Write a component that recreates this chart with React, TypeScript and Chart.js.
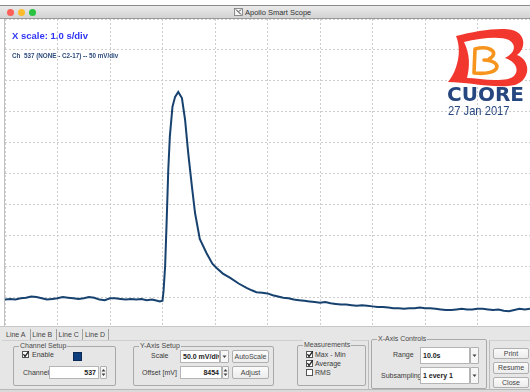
import React, { useEffect, useRef } from "react";
import { Chart, registerables } from "chart.js";
Chart.register(...registerables);

// time axis (s) and signal (mV)
const times = [
  0, 0.1, 0.2, 0.3, 0.4, 0.5, 0.6, 0.7, 0.8, 0.9,
  1.0, 1.1, 1.2, 1.3, 1.4, 1.5, 1.6, 1.7, 1.8, 1.9,
  2.0, 2.1, 2.2, 2.3, 2.4, 2.5, 2.6, 2.7, 2.8, 2.9,
  2.95, 3.0, 3.02, 3.05, 3.08, 3.11, 3.14, 3.19, 3.24, 3.3,
  3.37, 3.43, 3.49, 3.56, 3.62, 3.71, 3.84, 3.95, 4.03, 4.15,
  4.29, 4.45, 4.6, 4.7, 4.79, 4.9, 5.0, 5.1, 5.2, 5.3,
  5.4, 5.5, 5.6, 5.7, 5.8, 5.9, 6.0, 6.1, 6.2, 6.3,
  6.4, 6.5, 6.6, 6.7, 6.8, 6.9, 7.0, 7.1, 7.2, 7.3,
  7.4, 7.5, 7.6, 7.7, 7.8, 7.9, 8.0, 8.1, 8.2, 8.3,
  8.4, 8.5, 8.6, 8.7, 8.8, 8.9, 9.0, 9.1, 9.2, 9.3,
  9.4, 9.5, 9.6, 9.7, 9.8, 9.9, 10.0,
];
const signal = [
  46, 47, 46, 48, 49, 51, 50, 48, 46, 47,
  48, 50, 49, 48, 47, 48, 50, 49, 46, 45,
  48, 48, 47, 46, 47, 46, 47, 45, 46, 44,
  43, 44, 60, 100, 175, 256, 310, 358, 374, 382,
  372, 337, 283, 229, 186, 144, 121, 104, 97, 88,
  81, 72, 65, 61, 58, 57, 56, 53, 51, 49,
  48, 46, 45, 44, 43, 42, 41, 42, 40, 39,
  38, 38, 37, 36, 37, 36, 35, 34, 34, 33,
  32, 32, 31, 32, 32, 33, 32, 32, 31, 30,
  29, 29, 30, 31, 30, 30, 31, 31, 30, 29,
  30, 28, 27, 29, 31, 30, 31,
];
const xRange = [0, 10]; // 1.0 s/div
const yRange = [0, 500]; // 50 mV/div
const tabLabels = ["Line A", "Line B", "Line C", "Line D"];

const UI = "'Liberation Sans', Arial, sans-serif";

function Abs(props: { x: number; y: number; w?: number; h?: number; style?: React.CSSProperties; children?: React.ReactNode }) {
  return (
    <div
      style={{
        position: "absolute",
        left: props.x,
        top: props.y,
        width: props.w,
        height: props.h,
        boxSizing: "border-box",
        ...props.style,
      }}
    >
      {props.children}
    </div>
  );
}

function Label(props: { x: number; y: number; text: string; bold?: boolean; size?: number; color?: string }) {
  return (
    <div
      style={{
        position: "absolute",
        left: props.x,
        top: props.y,
        fontFamily: UI,
        fontSize: props.size ?? 7,
        lineHeight: "9px",
        color: props.color ?? "#3a3a3a",
        fontWeight: props.bold ? "bold" : "normal",
        whiteSpace: "nowrap",
      }}
    >
      {props.text}
    </div>
  );
}

function Group(props: { x: number; y: number; w: number; h: number; title: string }) {
  return (
    <>
      <Abs x={props.x} y={props.y} w={props.w} h={props.h} style={{ border: "1px solid #a9a9a9", borderRadius: 2 }} />
      <div
        style={{
          position: "absolute",
          left: props.x + 6,
          top: props.y - 5,
          padding: "0 1px",
          background: "#e6e6e6",
          fontFamily: UI,
          fontSize: 7,
          lineHeight: "9px",
          color: "#4a4a4a",
          whiteSpace: "nowrap",
        }}
      >
        {props.title}
      </div>
    </>
  );
}

function Input(props: { x: number; y: number; w: number; h: number; text: string; align?: "left" | "right" }) {
  return (
    <Abs
      x={props.x}
      y={props.y}
      w={props.w}
      h={props.h}
      style={{
        background: "#fff",
        border: "1px solid #b5b5b5",
        fontFamily: UI,
        fontSize: 7,
        fontWeight: "bold",
        color: "#222",
        lineHeight: `${props.h - 2}px`,
        textAlign: props.align ?? "left",
        padding: "0 2px",
        whiteSpace: "nowrap",
        overflow: "hidden",
      }}
    >
      {props.text}
    </Abs>
  );
}

function Button(props: { x: number; y: number; w: number; h: number; text: string }) {
  return (
    <Abs
      x={props.x}
      y={props.y}
      w={props.w}
      h={props.h}
      style={{
        background: "linear-gradient(#fbfbfb, #ececec)",
        border: "1px solid #b0b0b0",
        borderRadius: 2,
        fontFamily: UI,
        fontSize: 7,
        color: "#444",
        lineHeight: `${props.h - 2}px`,
        textAlign: "center",
        whiteSpace: "nowrap",
      }}
    >
      {props.text}
    </Abs>
  );
}

function Arrow(props: { x: number; y: number; w: number; h: number; spinner?: boolean }) {
  return (
    <Abs
      x={props.x}
      y={props.y}
      w={props.w}
      h={props.h}
      style={{ background: "#f7f7f7", border: "1px solid #b0b0b0", borderRadius: 1 }}
    >
      <svg width={props.w - 2} height={props.h - 2} style={{ position: "absolute", left: 0, top: 0 }}>
        {props.spinner ? (
          <>
            <path d={`M ${(props.w - 2) / 2 - 2} ${(props.h - 2) / 2 - 1} l 2 -2.5 l 2 2.5 z`} fill="#444" />
            <path d={`M ${(props.w - 2) / 2 - 2} ${(props.h - 2) / 2 + 1} l 2 2.5 l 2 -2.5 z`} fill="#444" />
          </>
        ) : (
          <path d={`M ${(props.w - 2) / 2 - 2} ${(props.h - 2) / 2 - 1} l 2 2.5 l 2 -2.5 z`} fill="#444" />
        )}
      </svg>
    </Abs>
  );
}

function Check(props: { x: number; y: number; checked: boolean }) {
  return (
    <svg width={7} height={7} style={{ position: "absolute", left: props.x, top: props.y }}>
      <rect x={0.5} y={0.5} width={6} height={6} fill="#fff" stroke="#555" strokeWidth={1} />
      {props.checked && <path d="M 1.5 3 L 3 5.5 L 7 0" stroke="#222" strokeWidth={1.3} fill="none" />}
    </svg>
  );
}

function Logo() {
  return (
    <svg width={90} height={62} style={{ position: "absolute", left: 442, top: 26 }} viewBox="442 26 90 62">
      <path
        d="M 456 36 C 475 31, 500 27, 512 30 C 525 33, 527 47, 517 55 C 531 60, 531 80, 515 85 C 495 89, 468 82, 448 82 C 458 70, 462 50, 456 36 Z"
        fill="#f2382e"
      />
      <path
        d="M 464 42 C 480 38, 500 36, 509 40 C 517 45, 515 53, 505 58 C 520 63, 520 76, 508 79 C 492 82, 478 78, 467 78 C 470 66, 470 54, 464 42 Z"
        fill="#ffffff"
      />
      <path
        d="M 475 49 L 474 73 M 475 49 C 490 45, 500 53, 489 59 M 484 60 C 504 61, 501 76, 474 73"
        stroke="#f7941d"
        strokeWidth={3.6}
        fill="none"
        strokeLinecap="round"
      />
    </svg>
  );
}

export default function App() {
  const canvasRef = useRef<HTMLCanvasElement | null>(null);

  useEffect(() => {
    document.body.style.margin = "0";
    const canvas = canvasRef.current;
    if (!canvas) return;
    const points = times.map((t, i) => ({ x: t, y: signal[i] }));
    const chart = new Chart(canvas, {
      type: "line",
      data: {
        datasets: [
          {
            data: points,
            borderColor: "#17426f",
            borderWidth: 2,
            pointRadius: 0,
            tension: 0,
            fill: false,
          },
        ],
      },
      options: {
        animation: false,
        responsive: false,
        maintainAspectRatio: false,
        layout: { padding: 0 },
        plugins: { legend: { display: false }, tooltip: { enabled: false } },
        scales: {
          x: {
            type: "linear",
            min: xRange[0],
            max: xRange[1],
            ticks: { display: false, stepSize: 1 },
            grid: { color: "#cdcdcd", lineWidth: 1, drawTicks: false, tickLength: 0 },
            border: { display: false, dash: [2, 2] },
          },
          y: {
            type: "linear",
            min: yRange[0],
            max: yRange[1],
            ticks: { display: false, stepSize: 50 },
            grid: { color: "#cdcdcd", lineWidth: 1, drawTicks: false, tickLength: 0 },
            border: { display: false, dash: [2, 2] },
          },
        },
      },
    });
    return () => chart.destroy();
  }, []);

  return (
    <div style={{ position: "fixed", left: 0, top: 0, width: 530, height: 392, background: "#fff", overflow: "hidden" }}>
      {/* title bar */}
      <Abs
        x={0}
        y={5}
        w={530}
        h={14}
        style={{ background: "linear-gradient(#ebebeb, #d2d2d2)", borderTop: "1px solid #8a8a8a", borderBottom: "1px solid #9a9a9a" }}
      />
      {[{ x: 10, c: "#fc5f57" }, { x: 21, c: "#fdbb2e" }, { x: 32, c: "#29c33f" }].map((d) => (
        <div
          key={d.x}
          style={{
            position: "absolute",
            left: d.x - 3.5,
            top: 8.5,
            width: 7,
            height: 7,
            borderRadius: "50%",
            background: d.c,
          }}
        />
      ))}
      <svg width={9} height={8} style={{ position: "absolute", left: 234, top: 8 }}>
        <rect x={0.5} y={0.5} width={8} height={7} fill="#f4f4f4" stroke="#777" strokeWidth={0.8} />
        <path d="M 2 1.5 L 7 6.5 M 7 1.5 L 5 3.5" stroke="#333" strokeWidth={1} />
      </svg>
      <Label x={245} y={7.5} text="Apollo Smart Scope" size={7.5} color="#333" />

      {/* plot */}
      <canvas
        ref={canvasRef}
        width={525}
        height={309}
        style={{ position: "absolute", left: 5, top: 19, width: 525, height: 309 }}
      />
      <Abs x={4} y={19} w={1} h={307} style={{ background: "#c0c0c0" }} />
      <div
        style={{
          position: "absolute",
          left: 12,
          top: 30,
          fontFamily: UI,
          fontSize: 9.5,
          fontWeight: "bold",
          color: "#2f34f5",
          whiteSpace: "nowrap",
        }}
      >
        X scale: 1.0 s/div
      </div>
      <div
        style={{
          position: "absolute",
          left: 12,
          top: 52,
          fontFamily: UI,
          fontSize: 6.3,
          fontWeight: "bold",
          color: "#2d4c7c",
          whiteSpace: "pre",
        }}
      >
        {"Ch  537 (NONE - C2-17) -- 50 mV/div"}
      </div>
      <Logo />
      <div
        style={{
          position: "absolute",
          left: 447,
          top: 83,
          fontFamily: "'DejaVu Sans', sans-serif",
          fontSize: 20,
          fontWeight: "bold",
          color: "#26467f",
          whiteSpace: "nowrap",
          lineHeight: "22px",
        }}
      >
        CUORE
      </div>
      <div
        style={{
          position: "absolute",
          left: 448,
          top: 103,
          fontFamily: UI,
          fontSize: 13,
          color: "#26467f",
          whiteSpace: "nowrap",
          lineHeight: "15px",
          transform: "scaleX(0.86)",
          transformOrigin: "left top",
        }}
      >
        27 Jan 2017
      </div>

      {/* bottom panel */}
      <Abs x={0} y={326} w={530} h={66} style={{ background: "#e6e6e6", borderTop: "1px solid #c8c8c8" }} />
      {tabLabels.map((t, i) => (
        <React.Fragment key={t}>
          <Label x={6 + i * 26.3} y={330} text={t} size={7} color="#444" />
          <Abs x={30 + i * 26} y={329} w={1} h={11} style={{ background: "#a0a0a0" }} />
        </React.Fragment>
      ))}
      <Abs x={2} y={340} w={367} h={49} style={{ borderTop: "1px solid #cfcfcf", borderRight: "1px solid #bdbdbd" }} />
      <Abs x={0} y={389} w={530} h={3} style={{ background: "#dadada", borderTop: "1px solid #b8b8b8" }} />

      {/* Channel Setup */}
      <Group x={13} y={346} w={103} h={40} title="Channel Setup" />
      <Check x={22} y={351} checked={true} />
      <Label x={32} y={350} text="Enable" />
      <Abs x={73} y={352} w={9} h={9} style={{ background: "#0c3d7d", border: "1px solid #0a2a55" }} />
      <Label x={23} y={368} text="Channel" />
      <Input x={49} y={366} w={50} h={13} text="537" align="right" />
      <Arrow x={100} y={366} w={7} h={13} spinner />

      {/* Y-Axis Setup */}
      <Group x={133} y={346} w={141} h={40} title="Y-Axis Setup" />
      <Label x={151} y={351} text="Scale" />
      <Input x={180} y={350} w={40} h={13} text="50.0 mV/div" />
      <Arrow x={220} y={350} w={9} h={13} />
      <Button x={232} y={350} w={37} h={13} text="AutoScale" />
      <Label x={142} y={368} text="Offset [mV]" />
      <Input x={180} y={366} w={42} h={13} text="8454" align="right" />
      <Arrow x={222} y={366} w={7} h={13} spinner />
      <Button x={232} y={366} w={37} h={13} text="Adjust" />

      {/* Measurements */}
      <Group x={297} y={345} w={69} h={41} title="Measurements" />
      <Check x={306} y={351} checked={true} />
      <Label x={315} y={350} text="Max - Min" />
      <Check x={306} y={360} checked={true} />
      <Label x={315} y={359} text="Average" />
      <Check x={306} y={369} checked={false} />
      <Label x={315} y={368} text="RMS" />

      {/* X-Axis Controls */}
      <Group x={371} y={339} w={116} h={50} title="X-Axis Controls" />
      <Label x={393} y={350} text="Range" />
      <Input x={420} y={347} w={50} h={17} text="10.0s" />
      <Arrow x={470} y={347} w={9} h={17} />
      <Label x={381} y={371} text="Subsampling" />
      <Input x={420} y={367} w={50} h={17} text="1 every 1" />
      <Arrow x={470} y={367} w={9} h={17} />

      {/* Buttons */}
      <Abs x={489} y={340} w={41} h={50} style={{ borderLeft: "1px solid #bdbdbd", borderTop: "1px solid #cfcfcf" }} />
      <Button x={493} y={348} w={36} h={11} text="Print" />
      <Button x={493} y={362} w={36} h={12} text="Resume" />
      <Button x={493} y={377} w={36} h={11} text="Close" />
    </div>
  );
}
